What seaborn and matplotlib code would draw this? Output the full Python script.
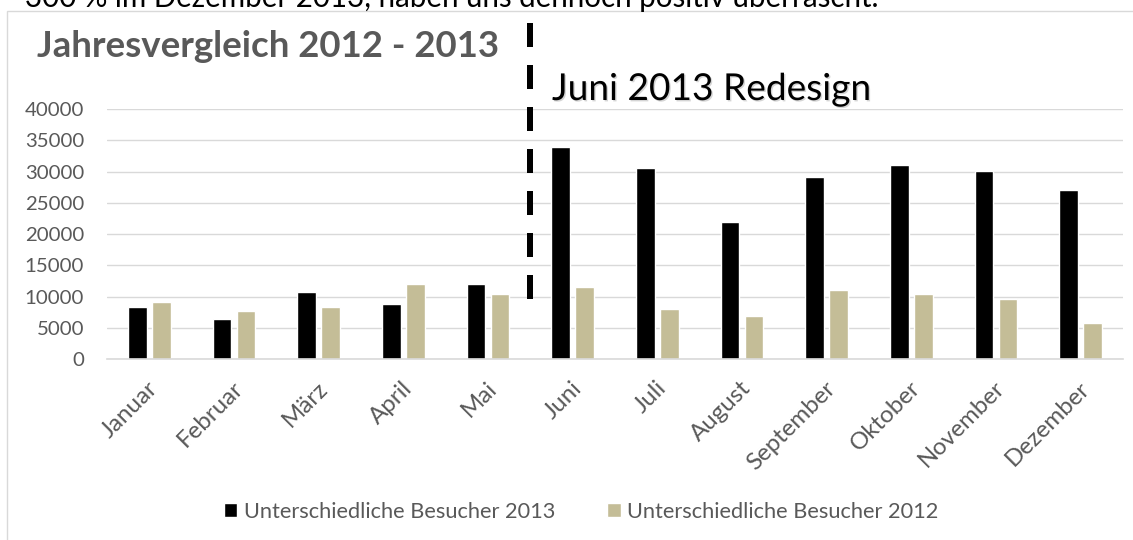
import matplotlib
matplotlib.use("Agg")
import matplotlib.pyplot as plt
import matplotlib.patheffects as pe
from matplotlib.patches import Rectangle
from matplotlib.transforms import ScaledTranslation
import seaborn as sns
import pandas as pd

# ---------------- data ----------------
months = ["Januar", "Februar", "März", "April", "Mai", "Juni", "Juli",
          "August", "September", "Oktober", "November", "Dezember"]
visitors_2013 = [8400, 6500, 10800, 8900, 12000, 34000, 30500, 22000, 29100, 31100, 30100, 27000]
visitors_2012 = [9100, 7700, 8400, 12100, 10500, 11600, 8000, 6900, 11000, 10400, 9700, 5800]
series_names = ["Unterschiedliche Besucher 2013", "Unterschiedliche Besucher 2012"]
y_ticks = [0, 5000, 10000, 15000, 20000, 25000, 30000, 35000, 40000]
y_tick_labels = [str(v) for v in y_ticks]
chart_title = "Jahresvergleich 2012 - 2013"
annotation_text = "Juni 2013 Redesign"
doc_text = "300 % im Dezember 2013, haben uns dennoch positiv überrascht."

# ---------------- style ----------------
sns.set_theme(style="white")
plt.rcParams["font.family"] = ["Lato", "DejaVu Sans"]
GRAY_TXT = "#595959"
GRID = "#d9d9d9"
colors = ["#000000", "#C4BD97"]

W, H = 1133, 540
fig = plt.figure(figsize=(W / 100, H / 100), dpi=100)
fig.patch.set_facecolor("white")

ax_l, ax_r, ax_t, ax_b = 107, 1123, 109, 359.3
ax = fig.add_axes([ax_l / W, 1 - ax_b / H, (ax_r - ax_l) / W, (ax_b - ax_t) / H])

df = pd.DataFrame({
    "Monat": months * 2,
    "Besucher": visitors_2013 + visitors_2012,
    "Serie": [series_names[0]] * len(months) + [series_names[1]] * len(months),
})
sns.barplot(data=df, x="Monat", y="Besucher", hue="Serie", order=months,
            hue_order=series_names, palette=colors, saturation=1,
            width=0.567, gap=0.22, errorbar=None, ax=ax)

ax.set_xlim(-0.5, len(months) - 0.5)
ax.set_ylim(0, 40000)
ax.set_yticks(y_ticks)
ax.set_yticklabels(y_tick_labels)
ax.set_xlabel("")
ax.set_ylabel("")
ax.yaxis.grid(True, color=GRID, linewidth=1.0)
ax.set_axisbelow(True)
for s in ["left", "right", "top"]:
    ax.spines[s].set_visible(False)
ax.spines["bottom"].set_color(GRID)
ax.spines["bottom"].set_linewidth(1.2)
ax.set_facecolor("none")

renderer = fig.canvas.get_renderer()


def fit_size(text, target_px, weight="normal"):
    t = fig.text(0, 0, text, fontsize=20, fontweight=weight)
    w = t.get_window_extent(renderer).width
    t.remove()
    return 20 * target_px / w


ytick_fs = fit_size("40000", 59)
xtick_fs = fit_size("Februar", 83)
legend_fs = fit_size(series_names[0], 312)
title_fs = fit_size(chart_title, 463, "bold")
annot_fs = fit_size(annotation_text, 320)
doc_fs = fit_size(doc_text, 855)

ax.tick_params(axis="y", length=0, pad=16.5, labelsize=ytick_fs, labelcolor=GRAY_TXT)
ax.tick_params(axis="x", length=0, pad=13.0, labelsize=xtick_fs, labelcolor=GRAY_TXT)
for lab in ax.get_xticklabels():
    lab.set_rotation(45)
    lab.set_ha("right")
    lab.set_va("top")
    lab.set_rotation_mode("anchor")
    lab.set_transform(lab.get_transform() + ScaledTranslation(-2 / 100, 0, fig.dpi_scale_trans))

# legend
handles, labels = ax.get_legend_handles_labels()
if ax.get_legend() is not None:
    ax.get_legend().remove()
fig.legend(handles, labels, loc="center", bbox_to_anchor=(581 / W, 1 - 512 / H),
           ncol=2, frameon=False, handlelength=0.62, handleheight=0.62,
           handletextpad=0.3, columnspacing=2.4, fontsize=legend_fs,
           labelcolor=GRAY_TXT)

# redesign marker (dashed line between Mai and Juni)
redesign_x = 4.5
line_top = (ax_b - 23) / (ax_b - ax_t) * 40000
line_bottom = (ax_b - 299) / (ax_b - ax_t) * 40000
ax.plot([redesign_x, redesign_x], [line_top, line_bottom], color="black",
        linewidth=4.32, dashes=(4, 3), dash_capstyle="butt", clip_on=False, zorder=5)

# texts
fig.text(37 / W, 1 - 57 / H, chart_title, fontsize=title_fs, fontweight="bold",
         color=GRAY_TXT, va="baseline", ha="left")
fig.text(552 / W, 1 - 100 / H, annotation_text, fontsize=annot_fs, color="black",
         va="baseline", ha="left",
         path_effects=[pe.SimplePatchShadow(offset=(1, -1), shadow_rgbFace="#888888", alpha=0.35),
                       pe.Normal()])
fig.text(25 / W, 1 - 7 / H, doc_text, fontsize=doc_fs, color="black",
         va="baseline", ha="left")

# chart frame (cut at right and bottom)
fig.patches.append(Rectangle((7 / W, -0.5), 2, 0.5 + (1 - 11 / H), transform=fig.transFigure,
                             fill=False, edgecolor=GRID, linewidth=1.0))

fig.savefig("out.png", dpi=100, facecolor="white")
